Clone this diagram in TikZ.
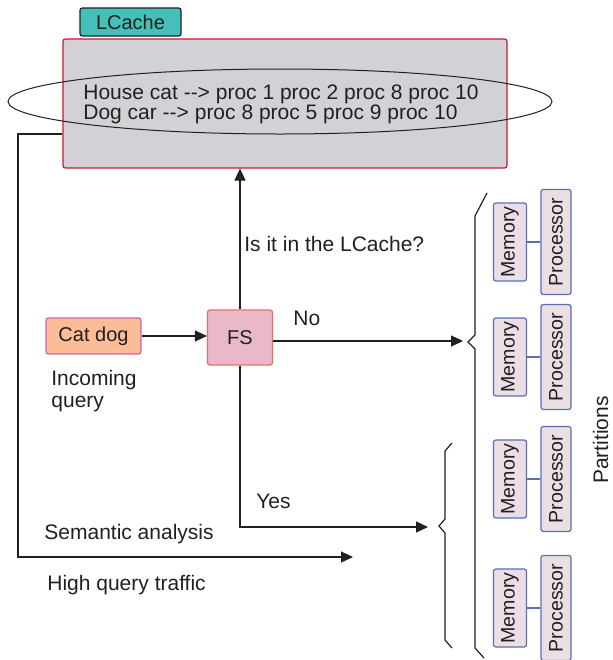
\documentclass[tikz,border=0pt]{standalone}
\usepackage{fontspec}
\setmainfont{Liberation Sans}
\usetikzlibrary{arrows.meta}
\definecolor{ink}{HTML}{231F20}
\definecolor{cachefill}{HTML}{D3D1D5}
\definecolor{cacheline}{HTML}{BE1E2D}
\definecolor{tagfill}{HTML}{45C0B9}
\definecolor{catfill}{HTML}{FBBC98}
\definecolor{catline}{HTML}{D661A9}
\definecolor{fsfill}{HTML}{E9B9CA}
\definecolor{fsline}{HTML}{EB6E5C}
\definecolor{partfill}{HTML}{EBDFE5}
\definecolor{partline}{HTML}{5A6DB5}
\begin{document}
\begin{tikzpicture}[x=0.5pt,y=-0.5pt,
  every node/.style={text=ink,font=\fontsize{10.5}{11}\selectfont},
  box/.style={draw,rounded corners=1.2pt,line width=0.6pt,inner sep=0pt,font=\fontsize{10}{12}\selectfont},
  part/.style={box,draw=partline,fill=partfill,rotate=90,font=\fontsize{9.8}{12}\selectfont},
  lbl/.style={anchor=base west,inner sep=0pt},
  flow/.style={draw=ink,line width=0.6pt,-{Triangle[length=6pt,width=5.5pt]}}]
\useasboundingbox (0,0) rectangle (612,660);
\node[box,draw=cacheline,fill=cachefill,minimum width=222pt,minimum height=64.5pt] (cache) at (285,103.5) {};
\node[box,draw=ink,fill=tagfill,minimum width=50.5pt,minimum height=14pt] (tag) at (130.5,22) {LCache};
\draw[ink,line width=0.5pt] (280,101.5) ellipse [x radius=272,y radius=32.5];
\node[lbl] (entry1) at (83,99) {House cat {-}{-}> proc 1 proc 2 proc 8 proc 10};
\node[lbl] (entry2) at (83,119) {Dog car {-}{-}> proc 8 proc 5 proc 9 proc 10};
\node[box,draw=catline,fill=catfill,minimum width=47.5pt,minimum height=18pt] (query) at (93.5,336) {Cat dog};
\node[box,draw=fsline,fill=fsfill,minimum width=32.5pt,minimum height=27.5pt] (fs) at (240,337.5) {FS};
\node[anchor=north west,inner sep=0pt,align=left] (incoming) at (51,370) {Incoming\\query};
\node[lbl] (ask) at (244,251) {Is it in the LCache?};
\node[lbl] (no) at (293,325) {No};
\node[lbl] (yes) at (256,508) {Yes};
\node[lbl] (sem) at (44,539) {Semantic analysis};
\node[lbl] (traffic) at (47,590) {High query traffic};
\node[rotate=90,anchor=base,inner sep=0pt] (parts) at (608,440) {Partitions};
\coordinate (nohead) at (463,341);
\coordinate (yeshead) at (428,527);
\coordinate (loop) at (18,134);
\coordinate (traffichead) at (353,557);
\draw[flow] (query.east) -- (query.east -| fs.west);
\draw[flow] (fs.north) -- (fs.north |- cache.south);
\draw[flow] (fs.east |- nohead) -- (nohead);
\draw[flow] (fs.south) |- (yeshead);
\draw[flow] (cache.west |- loop) -- (loop) |- (traffichead);
\draw[ink,line width=0.6pt] (487,193) -- (475,216) -- (475,335) -- (468,342) -- (475,349) -- (475,648) -- (484,658);
\draw[ink,line width=0.6pt] (452,443) -- (445,451) -- (445,519) -- (439,526) -- (445,533) -- (445,640) -- (452,648);
\foreach \y [count=\i] in {242,357,479,608}{
  \node[part,minimum width=39pt,minimum height=16.5pt] (mem\i) at (510,\y) {Memory};
  \node[part,minimum width=52.5pt,minimum height=15pt] (proc\i) at (556,\y) {Processor};
  \draw[partline,line width=0.6pt] (mem\i) -- (proc\i);
}
\end{tikzpicture}
\end{document}
